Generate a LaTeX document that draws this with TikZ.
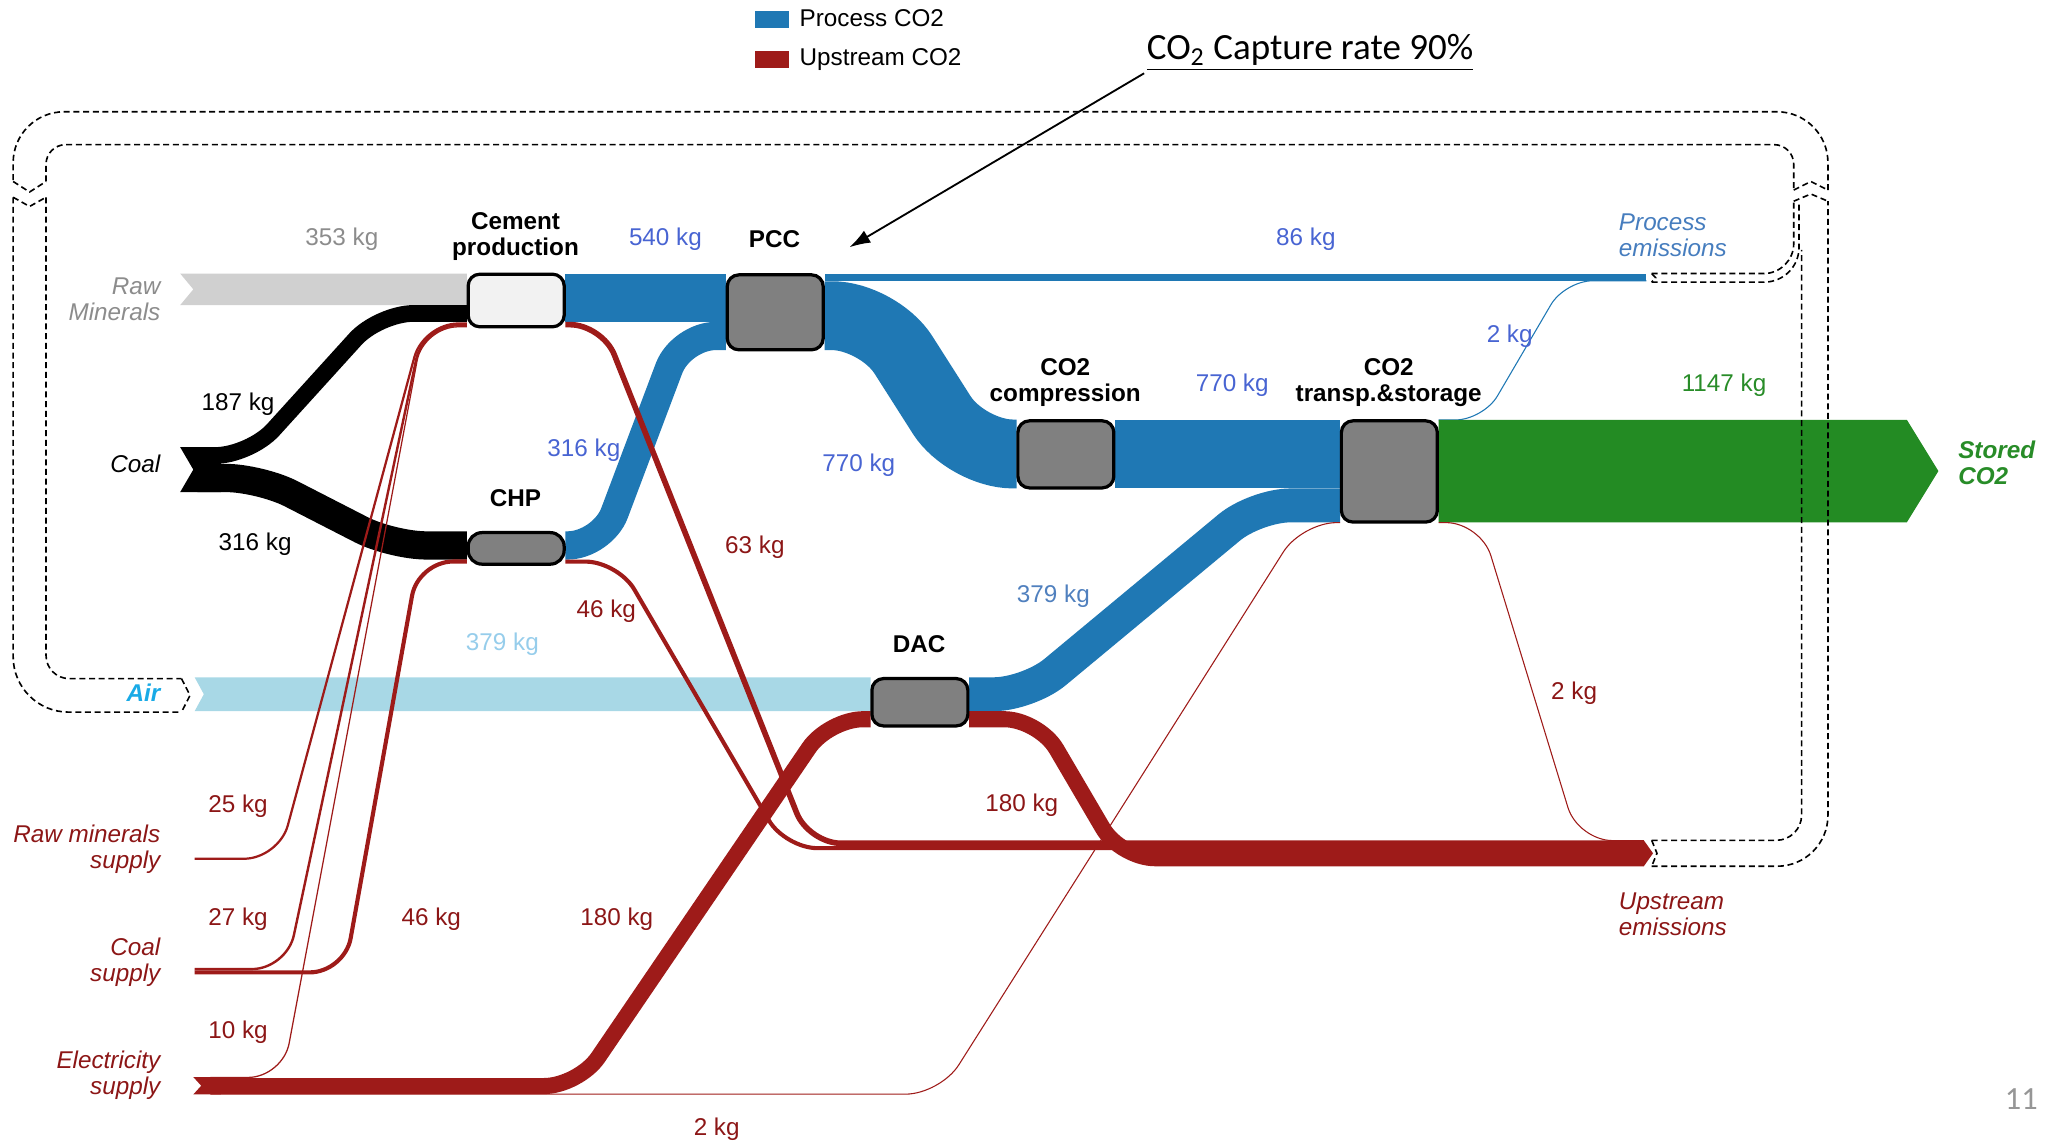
\documentclass[tikz,border=0pt]{standalone}
\usepackage{fontspec}
\setmainfont{Liberation Sans}
\newfontfamily\calibri{Carlito}
\usetikzlibrary{arrows.meta}

\definecolor{procblue}{RGB}{31,120,180}
\definecolor{upred}{RGB}{158,27,25}
\definecolor{rawgrey}{RGB}{208,208,208}
\definecolor{airblue}{RGB}{168,216,230}
\definecolor{storegreen}{RGB}{35,139,35}
\definecolor{unitgrey}{RGB}{128,128,128}
\definecolor{cementfill}{RGB}{242,242,242}
\definecolor{kgblue}{RGB}{72,100,210}
\definecolor{dacblue}{RGB}{80,128,190}
\definecolor{airtext}{RGB}{150,205,235}
\definecolor{airname}{RGB}{25,170,230}
\definecolor{emblue}{RGB}{70,125,190}
\definecolor{kgred}{RGB}{140,22,22}
\definecolor{kggreen}{RGB}{40,140,40}
\definecolor{labgrey}{RGB}{140,140,140}
\definecolor{pagegrey}{RGB}{150,150,150}

\tikzset{
  flow/.style={line width=#1*0.0387pt},
  unit/.style={draw=black, line width=1.4pt, rounded corners=5pt, fill=unitgrey,
    inner sep=0pt, minimum width=1.46cm},
  title/.style={font=\fontsize{10.5}{11.3}\selectfont\bfseries, align=center},
  kg/.style={font=\fontsize{10.5}{11.3}\selectfont, inner sep=1pt},
  term/.style={font=\fontsize{10.5}{11.3}\selectfont\itshape, inner sep=1pt},
  recyc/.style={draw=black, line width=0.7pt, dash pattern=on 2.6pt off 1.6pt},
}

\begin{document}
\begin{tikzpicture}[x=0.02cm, y=-0.02cm]
  \useasboundingbox (0,0) rectangle (1568,870);

  % legend and note
  \fill[procblue] (574,8) rectangle (600,21);
  \node[kg, anchor=west] (legproc) at (606,14) {Process CO2};
  \fill[upred] (574,39) rectangle (600,52);
  \node[kg, anchor=west] (legup) at (606,45) {Upstream CO2};
  \node[font=\calibri\fontsize{16}{18}\selectfont, anchor=west, inner sep=1pt] (note) at (870,40)
    {\underline{CO\textsubscript{2} Capture rate 90\%}};
  \coordinate (pcctip) at (646,188);
  \draw[-{Latex[length=9pt,width=6pt]}, line width=0.8pt] (note.south west) -- (pcctip);

  % sources
  \fill[rawgrey] (137,208) -- (355,208) -- (355,232) -- (137,232) -- (147,220) -- cycle;
  \fill[airblue] (148,515) -- (662,515) -- (662,540.8) -- (148,540.8) -- (155,527.9) -- cycle;
  \fill[black] (137,340) -- (168,340) -- (168,374.2) -- (137,374.2) -- (147,357.1) -- cycle;
  \draw[black, flow=187, rounded corners=15pt] (150,346.35) -- (190,346.35) -- (288,238.35) -- (355,238.35);
  \draw[black, flow=316, rounded corners=15pt] (150,363.45) -- (198,363.45) -- (298,414.75) -- (355,414.75);

  % process CO2
  \fill[procblue] (430,208) rectangle (552,244.7);
  \fill[procblue] (627,208) rectangle (1252,213.9);
  \draw[procblue, flow=316, rounded corners=15pt] (430,414.75) -- (458,414.75) -- (518,255.45) -- (552,255.45);
  \draw[procblue, flow=770, rounded corners=20pt] (627,240.05) -- (668,240.05) -- (735,345.2) -- (773,345.2);
  \fill[procblue] (848,319) rectangle (1019,371.4);
  \draw[procblue, flow=379, rounded corners=15pt] (737,527.9) -- (782,527.9) -- (955,384.3) -- (1019,384.3);
  \draw[procblue, flow=12, rounded corners=12pt] (1094,319.3) -- (1128,319.3) -- (1190,213.5) -- (1252,213.5);
  \fill[storegreen] (1094,319.2) -- (1450,319.2) -- (1474,358.2) -- (1450,397.2) -- (1094,397.2) -- cycle;

  % upstream CO2
  \draw[upred, flow=25, rounded corners=15pt] (148,653) -- (212,653) -- (322,246) -- (355,246);
  \draw[upred, flow=27, rounded corners=15pt] (148,736.9) -- (218,736.9) -- (322,247.3) -- (355,247.3);
  \draw[upred, flow=46, rounded corners=15pt] (148,739.4) -- (262,739.4) -- (318,427) -- (355,427);
  \fill[upred] (147,819) -- (168,819) -- (168,832.2) -- (147,832.2) -- (153,825.6) -- cycle;
  \draw[upred, flow=14, rounded corners=15pt] (160,819.3) -- (215,819.3) -- (322,248.5) -- (355,248.5);
  \draw[upred, flow=180, rounded corners=15pt] (160,825.85) -- (440,825.85) -- (630,546.9) -- (662,546.9);
  \draw[upred, flow=12, rounded corners=15pt] (160,832) -- (715,832) -- (990,397.4) -- (1019,397.4);
  \draw[upred, flow=63, rounded corners=14pt] (430,246.85) -- (458,246.85) -- (615,641.25) -- (1250,641.25);
  \draw[upred, flow=46, rounded corners=14pt] (430,427.05) -- (470,427.05) -- (597,644.95) -- (1250,644.95);
  \draw[upred, flow=180, rounded corners=15pt] (737,546.9) -- (790,546.9) -- (852,652.6) -- (1250,652.6);
  \draw[upred, flow=12, rounded corners=15pt] (1094,397.4) -- (1126,397.4) -- (1200,639.2) -- (1250,639.2);
  \fill[upred] (1250,639) -- (1257,648.85) -- (1250,658.7) -- cycle;

  % units
  \node[unit, fill=cementfill, minimum height=0.80cm] (cement) at (392.5,228.5) {};
  \node[unit, minimum height=1.14cm] (pcc) at (589.5,237.5) {};
  \node[unit, minimum height=0.48cm, rounded corners=6pt] (chp) at (392.5,417) {};
  \node[unit, minimum height=1.02cm] (compr) at (810.5,345.5) {};
  \node[unit, minimum height=1.54cm] (storage) at (1056.5,358.5) {};
  \node[unit, minimum height=0.72cm] (dac) at (699.5,534) {};

  \node[title] (cementlbl) at (392,180) {Cement\\production};
  \node[title] (pcclbl) at (589,182) {PCC};
  \node[title] (chplbl) at (392,379) {CHP};
  \node[title] (comprlbl) at (810,291) {CO2\\compression};
  \node[title] (storagelbl) at (1056,291) {CO2\\transp.\&storage};
  \node[title] (daclbl) at (699,490) {DAC};

  % recycling loop
  \draw[recyc, rounded corners=22pt] (1390,144.5) -- (1390,85) -- (10,85) -- (10,138);
  \draw[recyc, rounded corners=8.5pt] (35,138) -- (35,110) -- (1364,110) -- (1364,144.5);
  \draw[recyc] (10,138) -- (22.5,146) -- (35,138);
  \draw[recyc] (1364,144.5) -- (1377,138) -- (1390,144.5);
  \draw[recyc, rounded corners=24pt] (10,150) -- (10,541.5) -- (138,541.5);
  \draw[recyc, rounded corners=10pt] (35,150) -- (35,516) -- (138,516);
  \draw[recyc] (10,150) -- (22.5,157) -- (35,150);
  \draw[recyc] (138,516) -- (144.5,528.75) -- (138,541.5);
  \draw[recyc, rounded corners=11pt] (1256,639) -- (1370,639) -- (1370,190);
  \draw[recyc, rounded corners=22pt] (1256,658.7) -- (1390,658.7) -- (1390,153);
  \draw[recyc] (1256,639) -- (1260,648.85) -- (1256,658.7);
  \draw[recyc, rounded corners=13pt] (1256,208) -- (1364,208) -- (1364,153);
  \draw[recyc, rounded corners=15pt] (1256,214.5) -- (1368,214.5) -- (1368,153);
  \draw[recyc] (1256,208) -- (1259,211.25) -- (1256,214.5);
  \draw[recyc] (1364,153) -- (1377,147.5) -- (1390,153);

  % terminals
  \node[term, text=labgrey, anchor=east, align=right] (rawlbl) at (124,227.5) {Raw\\Minerals};
  \node[term, anchor=east] (coallbl) at (124,353) {Coal};
  \node[term, font=\fontsize{10.5}{11.3}\selectfont\bfseries\itshape, text=airname, anchor=east] (airlbl) at (124,527) {Air};
  \node[term, text=kgred, anchor=east, align=right] (rmslbl) at (124,645.5) {Raw minerals\\supply};
  \node[term, text=kgred, anchor=east, align=right] (cslbl) at (124,731.5) {Coal\\supply};
  \node[term, text=kgred, anchor=east, align=right] (elslbl) at (124,817.5) {Electricity\\supply};
  \node[term, text=emblue, anchor=west, align=left] (pemlbl) at (1229,179) {Process\\emissions};
  \node[term, text=kgred, anchor=west, align=left] (uemlbl) at (1229,695) {Upstream\\emissions};
  \node[term, font=\fontsize{10.5}{11.3}\selectfont\bfseries\itshape, text=kggreen, anchor=west, align=left] (storedlbl) at (1487,352) {Stored\\CO2};

  % amounts
  \node[kg, text=labgrey] (kgraw) at (260,182) {353 kg};
  \node[kg] (kgcoala) at (181,307) {187 kg};
  \node[kg] (kgcoalb) at (194,414) {316 kg};
  \node[kg, text=kgblue] (kgcem) at (506,182) {540 kg};
  \node[kg, text=kgblue] (kgchp) at (444,342) {316 kg};
  \node[kg, text=kgblue] (kgpcc) at (653,354) {770 kg};
  \node[kg, text=kgblue] (kgcompr) at (937,293) {770 kg};
  \node[kg, text=kgblue] (kgpem) at (993,182) {86 kg};
  \node[kg, text=kgblue] (kgleak) at (1148,256) {2 kg};
  \node[kg, text=kggreen] (kgstored) at (1311,293) {1147 kg};
  \node[kg, text=dacblue] (kgdac) at (801,453) {379 kg};
  \node[kg, text=airtext] (kgair) at (382,490) {379 kg};
  \node[kg, text=kgred] (kgcemup) at (574,416) {63 kg};
  \node[kg, text=kgred] (kgchpup) at (461,465) {46 kg};
  \node[kg, text=kgred] (kgdacup) at (777,612) {180 kg};
  \node[kg, text=kgred] (kgstup) at (1197,527) {2 kg};
  \node[kg, text=kgred] (kgrms) at (181,613) {25 kg};
  \node[kg, text=kgred] (kgcs) at (181,699) {27 kg};
  \node[kg, text=kgred] (kgcschp) at (328,699) {46 kg};
  \node[kg, text=kgred] (kgeldac) at (469,699) {180 kg};
  \node[kg, text=kgred] (kgelcem) at (181,785) {10 kg};
  \node[kg, text=kgred] (kgelst) at (545,859) {2 kg};

  \node[font=\calibri\fontsize{14}{16}\selectfont, text=pagegrey] (pagenum) at (1537,836) {11};
\end{tikzpicture}
\end{document}
